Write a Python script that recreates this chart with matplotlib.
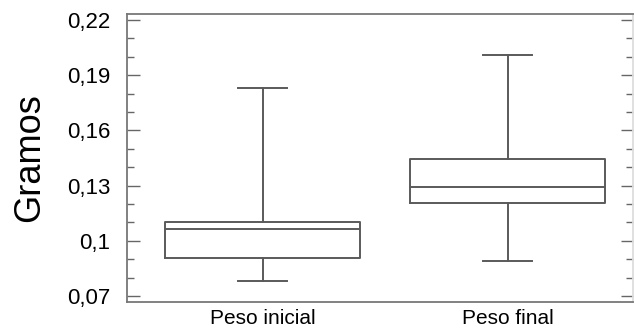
import matplotlib
matplotlib.use("Agg")
import matplotlib.pyplot as plt
from matplotlib.ticker import FixedLocator, MultipleLocator

plt.rcParams['font.family'] = ['Liberation Sans', 'DejaVu Sans']

# box statistics (grams)
groups = ["Peso inicial", "Peso final"]
whislo = [0.078, 0.089]
q1 = [0.0905, 0.1205]
med = [0.1065, 0.1292]
q3 = [0.110, 0.1445]
whishi = [0.183, 0.201]

ytick_vals = [0.07, 0.10, 0.13, 0.16, 0.19, 0.22]
ytick_labels = ["0,07", "0,1", "0,13", "0,16", "0,19", "0,22"]

stats = []
for i, g in enumerate(groups):
    stats.append(dict(label=g, whislo=whislo[i], q1=q1[i], med=med[i],
                      q3=q3[i], whishi=whishi[i], fliers=[]))

fig = plt.figure(figsize=(6.34, 3.31), dpi=100)
ax = fig.add_axes([0.2003, 0.0876, 0.798, 0.870])

line_c = "#5a5a5a"
props = dict(color=line_c, linewidth=1.4)
ax.bxp(stats, positions=[1, 2], widths=0.796, showfliers=False,
       boxprops=props, whiskerprops=props, capprops=props,
       medianprops=props, capwidths=0.2)

ax.set_xlim(0.445, 2.51)
ax.set_ylim(0.0667, 0.2233)

ax.yaxis.set_major_locator(FixedLocator(ytick_vals))
ax.set_yticklabels(ytick_labels)
ax.yaxis.set_minor_locator(MultipleLocator(0.01))
ax.tick_params(axis='y', which='major', direction='in', length=9, width=1,
               color="#666666", labelsize=16, pad=12, right=True)
ax.tick_params(axis='y', which='minor', direction='in', length=5, width=1,
               color="#666666", right=True)
ax.tick_params(axis='x', length=0, labelsize=15, pad=5)

for s in ax.spines.values():
    s.set_color("#777777")
    s.set_linewidth(1.3)
ax.spines['right'].set_color("#dddddd")

ax.set_ylabel("Gramos", fontsize=26, labelpad=14)

fig.savefig("out.png", dpi=100)
